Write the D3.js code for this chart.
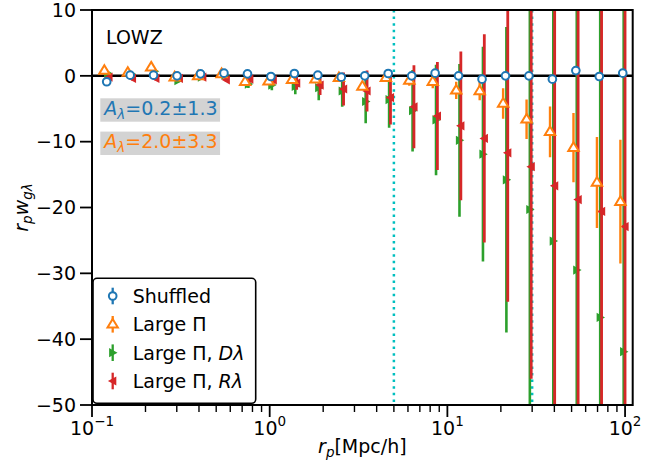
<!DOCTYPE html>
<html><head><meta charset="utf-8">
<script src="https://cdn.jsdelivr.net/npm/d3@7"></script>
<style>
body{margin:0;background:#fff;}
svg{font-family:"DejaVu Sans",sans-serif;}
</style></head>
<body><svg id="c" width="667" height="467"></svg>
<script>
// ---- data ----
const rp = [0.121, 0.164, 0.222, 0.301, 0.408, 0.553, 0.750, 1.016, 1.377, 1.866, 2.529, 3.428, 4.645, 6.295, 8.531, 11.56, 15.67, 21.23, 28.77, 38.99, 52.84, 71.61, 97.05];
const shuffledVal = [-0.9, 0.1, 0.1, 0.0, 0.3, 0.4, 0.3, -0.1, 0.35, 0.1, -0.2, 0.0, 0.35, 0.0, 0.4, 0.0, -0.5, 0.0, 0.0, -0.5, 0.8, -0.1, 0.4];
const shuffledErr = [0.3, 0.25, 0.25, 0.2, 0.2, 0.2, 0.2, 0.2, 0.2, 0.2, 0.2, 0.2, 0.2, 0.2, 0.2, 0.2, 0.2, 0.3, 0.3, 0.3, 0.3, 0.3, 0.3];
const largePiVal = [0.8, 0.5, 1.3, -0.2, 0.0, 0.3, -0.9, -0.8, -0.6, -0.5, -0.3, -1.6, -0.3, -0.7, -0.9, -2.2, -2.3, -4.2, -6.6, -8.5, -10.9, -16.2, -19.1];
const largePiErr = [0.3, 0.3, 0.3, 0.3, 0.3, 0.3, 0.3, 0.3, 0.4, 0.4, 0.4, 0.5, 0.6, 0.8, 1.0, 1.3, 1.4, 2.3, 3.0, 3.85, 5.25, 6.9, 9.4];
const largePiDVal = [0.4, 0.3, 0.7, -0.75, -0.2, 0.1, -1.25, -1.4, -1.6, -1.8, -2.3, -3.9, -3.6, -5.3, -6.7, -9.8, -11.9, -15.8, -20.3, -25.1, -29.5, -36.7, -41.9];
const largePiDErr = [0.3, 0.3, 0.3, 0.3, 0.3, 0.4, 0.6, 0.8, 1.2, 1.9, 2.4, 3.3, 4.3, 6.2, 8.4, 11.6, 16.3, 23.2, 40, 48, 58, 70, 90];
const largePiRVal = [-0.2, -0.4, -0.4, -0.4, -0.2, -0.6, -0.5, -0.6, -1.1, -1.4, -2.0, -2.3, -3.3, -4.7, -6.1, -7.6, -9.5, -11.7, -13.8, -16.7, -18.8, -20.6, -22.9];
const largePiRErr = [0.3, 0.3, 0.3, 0.3, 0.3, 0.3, 0.5, 0.7, 1.0, 1.5, 2.5, 3.1, 4.1, 6.3, 8.2, 11.3, 15.8, 22.6, 32.2, 45, 55, 70, 90];
const vlines = [5, 30];
const yTicks = [10, 0, -10, -20, -30, -40, -50];
const xTickExps = [-1, 0, 1, 2];
const seriesNames = ["Shuffled", "Large Π", "Large Π, ", "Large Π, "];
const seriesItal = ["", "", "Dλ", "Rλ"];
const ampVals = ["0.2±1.3", "2.0±3.3"];
const panelLabel = "LOWZ";

// ---- layout ----
const L = 92, R = 632.7, T = 10, B = 405;
const FS = 19;
const colors = {blue:"#1f77b4", orange:"#ff7f0e", green:"#2ca02c", red:"#d62728"};
const svg = d3.select("#c");
const x = d3.scaleLog().domain([0.1, 110.4]).range([L, R]);
const y = d3.scaleLinear().domain([-50, 10]).range([B, T]);

svg.append("defs").append("clipPath").attr("id","clip")
  .append("rect").attr("x",L).attr("y",T).attr("width",R-L).attr("height",B-T);
const plot = svg.append("g").attr("clip-path","url(#clip)");

// vertical dotted lines
vlines.forEach(v=>{
  plot.append("line").attr("x1",x(v)).attr("x2",x(v)).attr("y1",T).attr("y2",B)
    .attr("stroke","#00bfbf").attr("stroke-width",2.5).attr("stroke-dasharray","2.5,4.1");
});
// zero line
plot.append("line").attr("x1",L).attr("x2",R).attr("y1",y(0)).attr("y2",y(0))
  .attr("stroke","#000").attr("stroke-width",2.5);

function drawSeries(vals, errs, fac, color, marker, lw){
  const g = plot.append("g");
  const pts = rp.map((r,i)=>({x:x(r*fac), v:vals[i], e:errs[i]}));
  g.selectAll("line").data(pts).join("line")
    .attr("x1",d=>d.x).attr("x2",d=>d.x)
    .attr("y1",d=>y(d.v+d.e)).attr("y2",d=>y(d.v-d.e))
    .attr("stroke",color).attr("stroke-width",lw);
  g.selectAll("path").data(pts).join("path")
    .attr("transform",d=>`translate(${d.x},${y(d.v)})`)
    .attr("d",marker.d).attr("fill",marker.fill).attr("stroke",marker.stroke||"none")
    .attr("stroke-width",marker.sw||0).attr("stroke-linejoin","miter");
}
const mk = {
  circle:{d:d3.symbol(d3.symbolCircle,46)(), fill:"#fff", stroke:colors.blue, sw:2},
  triUp:{d:"M0,-5.4L5.2,3.3L-5.2,3.3Z", fill:"#fff", stroke:colors.orange, sw:2},
  triRight:{d:"M4.8,0L-3.6,-4.6L-3.6,4.6Z", fill:colors.green},
  triLeft:{d:"M-4.8,0L3.6,-4.6L3.6,4.6Z", fill:colors.red}
};
drawSeries(largePiDVal, largePiDErr, 1.012, colors.green, mk.triRight, 2.6);
drawSeries(largePiRVal, largePiRErr, 1.03, colors.red, mk.triLeft, 2.8);
drawSeries(largePiVal, largePiErr, 0.97, colors.orange, mk.triUp, 2.4);
drawSeries(shuffledVal, shuffledErr, 1.0, colors.blue, mk.circle, 2);

// axes: spines
const ax = svg.append("g");
ax.append("rect").attr("x",L).attr("y",T).attr("width",R-L).attr("height",B-T)
  .attr("fill","none").attr("stroke","#000").attr("stroke-width",2);

// y ticks
yTicks.forEach(t=>{
  ax.append("line").attr("x1",L-12).attr("x2",L).attr("y1",y(t)).attr("y2",y(t))
    .attr("stroke","#000").attr("stroke-width",1.8);
  ax.append("text").attr("x",L-16).attr("y",y(t)+6.8).attr("text-anchor","end")
    .attr("font-size",FS).text(d3.format("")(t).replace("-","−"));
});
// x major ticks
xTickExps.forEach(e=>{
  const px = x(Math.pow(10,e));
  ax.append("line").attr("x1",px).attr("x2",px).attr("y1",B).attr("y2",B+12)
    .attr("stroke","#000").attr("stroke-width",1.8);
  const t = ax.append("text").attr("x",px).attr("y",435).attr("text-anchor","middle").attr("font-size",FS);
  t.append("tspan").text("10");
  t.append("tspan").attr("dy",-9).attr("font-size",13.5).text(String(e).replace("-","−"));
});
// x minor ticks
xTickExps.slice(0,3).forEach(e=>{
  for(let m=2;m<=9;m++){
    const v = m*Math.pow(10,e);
    if(v>110.4) continue;
    const px = x(v);
    ax.append("line").attr("x1",px).attr("x2",px).attr("y1",B).attr("y2",B+7)
      .attr("stroke","#000").attr("stroke-width",1.4);
  }
});

// axis labels
const xl = svg.append("text").attr("x",(L+R)/2).attr("y",453).attr("text-anchor","middle").attr("font-size",FS);
xl.append("tspan").attr("font-style","italic").text("r");
xl.append("tspan").attr("font-style","italic").attr("font-size",13.5).attr("dy",4).text("p");
xl.append("tspan").attr("dy",-4).text("[Mpc/h]");

const yl = svg.append("text").attr("transform",`translate(28,${(T+B)/2}) rotate(-90)`)
  .attr("text-anchor","middle").attr("font-size",FS).attr("font-style","italic");
yl.append("tspan").text("r");
yl.append("tspan").attr("font-size",13.5).attr("dy",4).text("p");
yl.append("tspan").attr("dy",-4).text("w");
yl.append("tspan").attr("font-size",13.5).attr("dy",4).text("gλ");

// panel label
svg.append("text").attr("x",106).attr("y",43.5).attr("font-size",FS).text(panelLabel);

// amplitude annotations
[[colors.blue,115],[colors.orange,148.3]].forEach(([c,by],i)=>{
  const g = svg.append("g");
  const rect = g.append("rect").attr("fill","#d3d3d3");
  const t = g.append("text").attr("x",104.3).attr("y",by).attr("font-size",FS).attr("fill",c);
  t.append("tspan").attr("font-style","italic").text("A");
  t.append("tspan").attr("font-style","italic").attr("font-size",13.5).attr("dy",4).text("λ");
  t.append("tspan").attr("dy",-4).text("="+ampVals[i]);
  const bb = t.node().getBBox();
  rect.attr("x",bb.x-2).attr("y",by-16.7).attr("width",bb.width+4.5).attr("height",23.4);
});

// legend
const lg = svg.append("g");
lg.append("rect").attr("x",93).attr("y",278.3).attr("width",162.7).attr("height",125)
  .attr("rx",4).attr("fill","#fff").attr("stroke","#000").attr("stroke-width",1.6);
const lcols = [colors.blue, colors.orange, colors.green, colors.red];
const lmk = [mk.circle, mk.triUp, mk.triRight, mk.triLeft];
const lcy = [296, 324.3, 352.7, 381];
lcols.forEach((c,i)=>{
  const cy = lcy[i];
  lg.append("line").attr("x1",112.7).attr("x2",112.7).attr("y1",cy-8.3).attr("y2",cy+8.3)
    .attr("stroke",c).attr("stroke-width",2.3);
  lg.append("path").attr("transform",`translate(112.7,${cy})`).attr("d",lmk[i].d)
    .attr("fill",lmk[i].fill).attr("stroke",lmk[i].stroke||"none").attr("stroke-width",lmk[i].sw||0);
  const t = lg.append("text").attr("x",132.7).attr("y",cy+6.8).attr("font-size",FS);
  t.append("tspan").text(seriesNames[i]);
  if(seriesItal[i]) t.append("tspan").attr("font-style","italic").text(seriesItal[i]);
});
</script></body></html>
